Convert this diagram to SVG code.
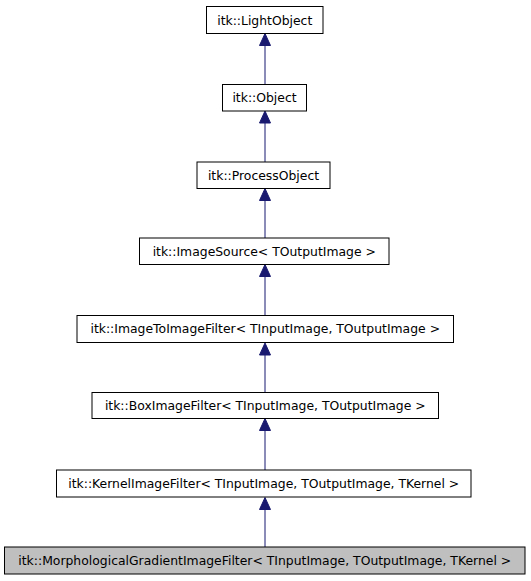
<svg xmlns="http://www.w3.org/2000/svg" width="531" height="581" viewBox="0 0 531 581">
<style>
.box{fill:#ffffff;stroke:#000000;stroke-width:1}
.cur{fill:#bfbfbf;stroke:#000000;stroke-width:1}
.lbl{font-family:"DejaVu Sans",sans-serif;font-size:12.4px;text-anchor:middle;fill:#000000}
.edge{stroke:#191970;stroke-width:1;fill:none}
.head{fill:#191970;stroke:#191970;stroke-width:1}
</style>
<rect width="531" height="581" fill="#ffffff"/>
<g id="edges">
<path class="edge" d="M265,84 V45.5"/><polygon class="head" points="265,33.5 259.5,45.5 270.5,45.5"/>
<path class="edge" d="M265,162 V123"/><polygon class="head" points="265,111 259.5,123 270.5,123"/>
<path class="edge" d="M265,238 V200.5"/><polygon class="head" points="265,188.5 259.5,200.5 270.5,200.5"/>
<path class="edge" d="M265,315 V276.5"/><polygon class="head" points="265,264.5 259.5,276.5 270.5,276.5"/>
<path class="edge" d="M265,393 V355"/><polygon class="head" points="265,343 259.5,355 270.5,355"/>
<path class="edge" d="M265,470 V430.5"/><polygon class="head" points="265,418.5 259.5,430.5 270.5,430.5"/>
<path class="edge" d="M265,547 V509.5"/><polygon class="head" points="265,497.5 259.5,509.5 270.5,509.5"/>
</g>
<g id="n1"><rect class="box" x="206.5" y="6.5" width="116.5" height="27"/><text class="lbl" x="264.75" y="24.5">itk::LightObject</text></g>
<g id="n2"><rect class="box" x="222.5" y="84.5" width="84" height="26.5"/><text class="lbl" x="264.5" y="102">itk::Object</text></g>
<g id="n3"><rect class="box" x="197" y="162" width="133" height="26.5"/><text class="lbl" x="263.5" y="179.5">itk::ProcessObject</text></g>
<g id="n4"><rect class="box" x="139.5" y="238" width="249.5" height="26.5"/><text class="lbl" x="264.25" y="255.5">itk::ImageSource&lt; TOutputImage &gt;</text></g>
<g id="n5"><rect class="box" x="77" y="315.5" width="376.5" height="27"/><text class="lbl" x="265.25" y="333">itk::ImageToImageFilter&lt; TInputImage, TOutputImage &gt;</text></g>
<g id="n6"><rect class="box" x="92" y="392.5" width="346.5" height="26"/><text class="lbl" x="265.25" y="410">itk::BoxImageFilter&lt; TInputImage, TOutputImage &gt;</text></g>
<g id="n7"><rect class="box" x="56.5" y="470" width="414.5" height="27"/><text class="lbl" x="263.75" y="488">itk::KernelImageFilter&lt; TInputImage, TOutputImage, TKernel &gt;</text></g>
<g id="n8"><rect class="cur" x="4.5" y="547" width="520.5" height="27"/><text class="lbl" x="264.75" y="565">itk::MorphologicalGradientImageFilter&lt; TInputImage, TOutputImage, TKernel &gt;</text></g>
</svg>
